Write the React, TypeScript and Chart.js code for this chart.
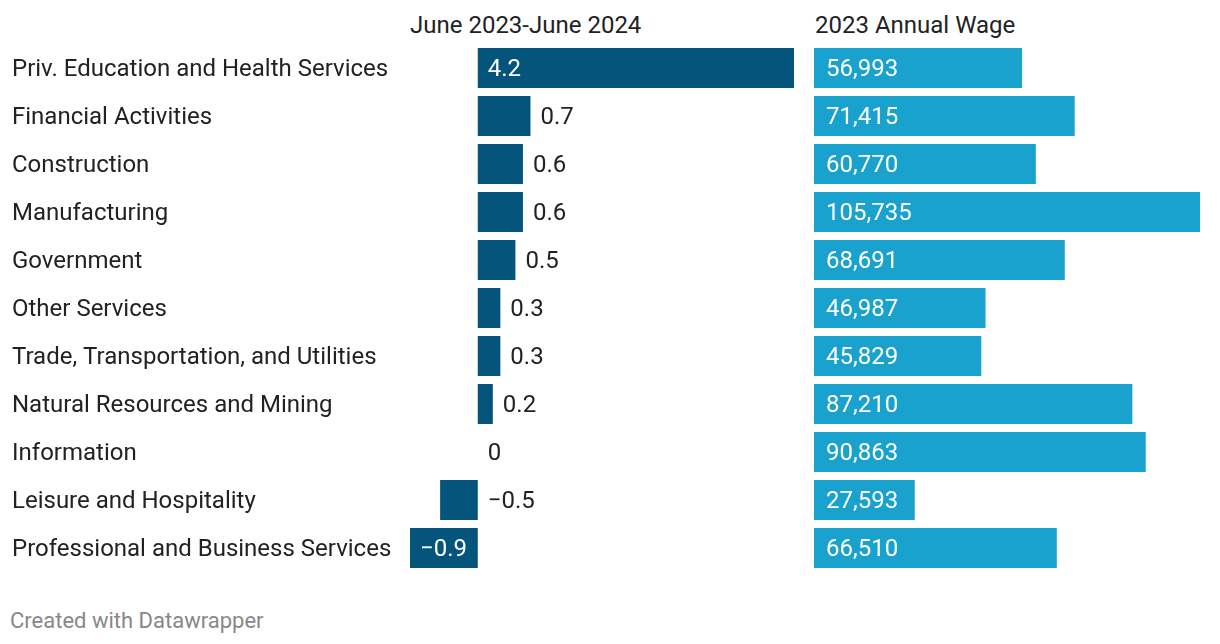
import React, { useEffect, useRef } from "react";
import { Chart, registerables } from "chart.js";

Chart.register(...registerables);

const categories = [
  "Priv. Education and Health Services",
  "Financial Activities",
  "Construction",
  "Manufacturing",
  "Government",
  "Other Services",
  "Trade, Transportation, and Utilities",
  "Natural Resources and Mining",
  "Information",
  "Leisure and Hospitality",
  "Professional and Business Services",
];
const changeValues = [4.2, 0.7, 0.6, 0.6, 0.5, 0.3, 0.3, 0.2, 0, -0.5, -0.9];
const wageValues = [56993, 71415, 60770, 105735, 68691, 46987, 45829, 87210, 90863, 27593, 66510];
const headerLeft = "June 2023-June 2024";
const headerRight = "2023 Annual Wage";
const footerText = "Created with Datawrapper";

const FONT = "Roboto, 'Noto Sans', sans-serif";
const DARK = "#05547b";
const LIGHT = "#1aa2ce";
const TEXT = "#222222";

const fmtChange = (v: number) => (v < 0 ? "\u2212" + Math.abs(v).toFixed(1) : v === 0 ? "0" : v.toFixed(1));
const fmtWage = (v: number) => v.toLocaleString("en-US");

const categoryLabels = {
  id: "categoryLabels",
  afterDraw(chart: any) {
    const ctx = chart.ctx;
    const yScale = chart.scales.y;
    ctx.save();
    ctx.font = `24px ${FONT}`;
    ctx.textBaseline = "middle";
    ctx.textAlign = "left";
    ctx.fillStyle = TEXT;
    categories.forEach((c, i) => {
      ctx.fillText(c, yScale.left, yScale.getPixelForValue(i) + 1.5);
    });
    ctx.restore();
  },
};

const changeLabels = {
  id: "changeLabels",
  afterDatasetsDraw(chart: any) {
    const ctx = chart.ctx;
    const meta = chart.getDatasetMeta(0);
    const xScale = chart.scales.x;
    const zero = xScale.getPixelForValue(0);
    ctx.save();
    ctx.font = `24px ${FONT}`;
    ctx.textBaseline = "middle";
    ctx.textAlign = "left";
    meta.data.forEach((bar: any, i: number) => {
      const v = changeValues[i];
      const width = Math.abs(bar.x - bar.base);
      const txt = fmtChange(v);
      const inside = width > 60;
      let x: number;
      if (inside) {
        ctx.fillStyle = "#ffffff";
        x = Math.min(bar.x, bar.base) + 10;
      } else {
        ctx.fillStyle = TEXT;
        x = (v > 0 ? bar.x : zero) + 10;
      }
      ctx.fillText(txt, x, bar.y + 1.5);
    });
    ctx.restore();
  },
};

const wageLabels = {
  id: "wageLabels",
  afterDatasetsDraw(chart: any) {
    const ctx = chart.ctx;
    const meta = chart.getDatasetMeta(0);
    ctx.save();
    ctx.font = `24px ${FONT}`;
    ctx.textBaseline = "middle";
    ctx.textAlign = "left";
    ctx.fillStyle = "#ffffff";
    meta.data.forEach((bar: any, i: number) => {
      ctx.fillText(fmtWage(wageValues[i]), bar.base + 12, bar.y + 1.5);
    });
    ctx.restore();
  },
};

export default function App() {
  const leftRef = useRef<HTMLCanvasElement>(null);
  const rightRef = useRef<HTMLCanvasElement>(null);

  useEffect(() => {
    const left = new Chart(leftRef.current!, {
      type: "bar",
      data: {
        labels: categories,
        datasets: [
          {
            data: changeValues,
            backgroundColor: DARK,
            barPercentage: 40 / 48,
            categoryPercentage: 1,
          },
        ],
      },
      options: {
        indexAxis: "y",
        responsive: false,
        animation: false,
        devicePixelRatio: 1,
        layout: { padding: { left: 12, top: 44, right: 12, bottom: 28 } },
        plugins: { legend: { display: false }, tooltip: { enabled: false } },
        scales: {
          x: { type: "linear", min: -0.9, max: 4.2, display: false },
          y: {
            type: "category",
            grid: { display: false },
            border: { display: false },
            ticks: { display: false },
            afterFit(axis: any) {
              axis.width = 398;
            },
          },
        },
      },
      plugins: [changeLabels, categoryLabels],
    } as any);

    const right = new Chart(rightRef.current!, {
      type: "bar",
      data: {
        labels: categories,
        datasets: [
          {
            data: wageValues,
            backgroundColor: LIGHT,
            barPercentage: 40 / 48,
            categoryPercentage: 1,
          },
        ],
      },
      options: {
        indexAxis: "y",
        responsive: false,
        animation: false,
        devicePixelRatio: 1,
        layout: { padding: { left: 8, top: 44, right: 20, bottom: 28 } },
        plugins: { legend: { display: false }, tooltip: { enabled: false } },
        scales: {
          x: { type: "linear", min: 0, max: 105735, display: false },
          y: { type: "category", display: false },
        },
      },
      plugins: [wageLabels],
    } as any);

    return () => {
      left.destroy();
      right.destroy();
    };
  }, []);

  const headerStyle: React.CSSProperties = {
    position: "absolute",
    top: 10,
    fontSize: 24,
    lineHeight: "30px",
    color: TEXT,
    whiteSpace: "nowrap",
  };

  return (
    <div
      style={{
        position: "fixed",
        left: 0,
        top: 0,
        width: 1220,
        height: 644,
        background: "#ffffff",
        fontFamily: FONT,
        overflow: "hidden",
      }}
    >
      <div style={{ ...headerStyle, left: 410 }}>{headerLeft}</div>
      <div style={{ ...headerStyle, left: 815 }}>{headerRight}</div>
      <canvas
        ref={leftRef}
        width={806}
        height={600}
        style={{ position: "absolute", left: 0, top: 0, width: 806, height: 600 }}
      />
      <canvas
        ref={rightRef}
        width={414}
        height={600}
        style={{ position: "absolute", left: 806, top: 0, width: 414, height: 600 }}
      />
      <div
        style={{
          position: "absolute",
          left: 10,
          top: 607,
          fontSize: 22,
          lineHeight: "28px",
          color: "#888888",
          whiteSpace: "nowrap",
        }}
      >
        {footerText}
      </div>
    </div>
  );
}
